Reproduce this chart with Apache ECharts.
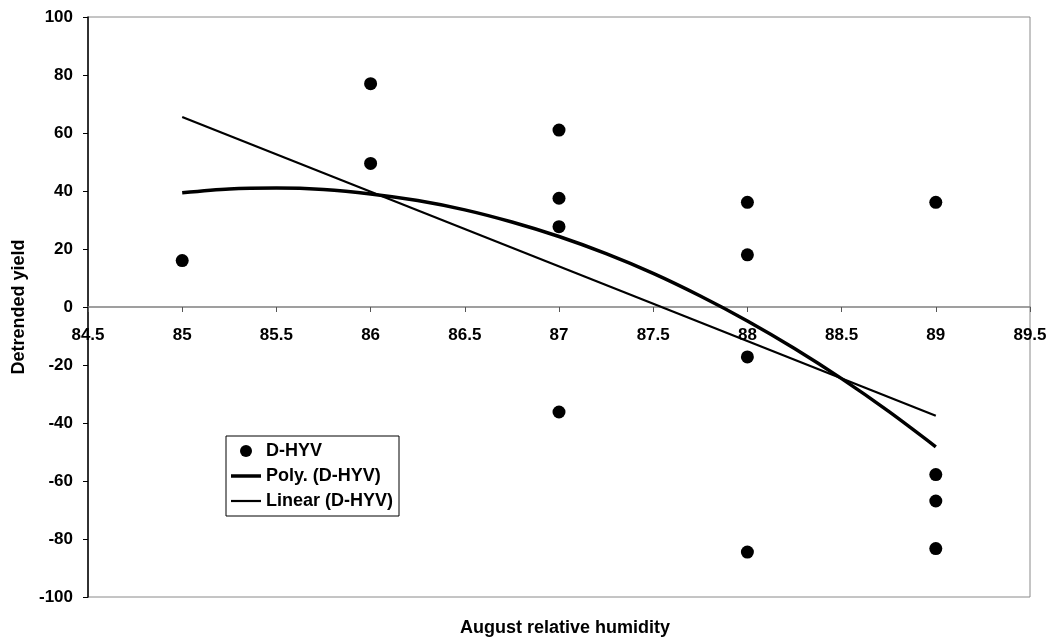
<!DOCTYPE html>
<html>
<head>
<meta charset="utf-8">
<script src="https://cdn.jsdelivr.net/npm/echarts@6/dist/echarts.min.js"></script>
<style>
  html, body { margin: 0; padding: 0; background: #fff; }
  #chart { width: 1050px; height: 639px; }
</style>
</head>
<body>
<div id="chart"></div>
<script>
// Observed detrended yield against August relative humidity
const humidity = [85, 86, 86, 87, 87, 87, 87, 88, 88, 88, 88, 89, 89, 89, 89];
const detrendedYield = [16, 77, 49.5, 61, 37.5, 27.7, -36.2, 36.1, 18, -17.2, -84.5, 36.1, -57.8, -66.9, -83.3];

// Second-order polynomial trend, sampled along its course
const polyX = [85, 85.25, 85.5, 85.75, 86, 86.25, 86.5, 86.75, 87, 87.25, 87.5, 87.75, 88, 88.25, 88.5, 88.75, 89];
const polyY = [39.4, 40.7, 41, 40.5, 39, 36.7, 33.5, 29.3, 24.3, 18.4, 11.6, 3.8, -4.8, -14.3, -24.7, -36, -48.2];

// Linear trend end points
const linearX = [85, 89];
const linearY = [65.5, -37.5];

// Axis ticks
const xTicks = { min: 84.5, max: 89.5, step: 0.5 };
const yTicks = { min: -100, max: 100, step: 20 };

const FONT = "'Liberation Sans', Arial, sans-serif";

const pairs = (xs, ys) => xs.map((x, i) => [x, ys[i]]);

const GRID = { left: 88, right: 20, top: 17, bottom: 42 };
const PLOT_H = 639 - GRID.top - GRID.bottom;

const chart = echarts.init(document.getElementById('chart'), null, { renderer: 'canvas' });

chart.setOption({
  backgroundColor: '#ffffff',
  animation: false,
  textStyle: { fontFamily: FONT },
  grid: {
    left: GRID.left, right: GRID.right, top: GRID.top, bottom: GRID.bottom,
    outerBoundsMode: 'none',
    containLabel: false,
    show: true, borderColor: '#8a8a8a', borderWidth: 1, backgroundColor: 'transparent'
  },
  xAxis: {
    type: 'value',
    min: xTicks.min, max: xTicks.max, interval: xTicks.step,
    position: 'bottom',
    // the humidity axis sits on the zero line, halfway up the plot
    offset: -PLOT_H * (0 - yTicks.min) / (yTicks.max - yTicks.min),
    axisLine: { onZero: false, lineStyle: { color: '#808080', width: 1.5 } },
    axisTick: { show: true, length: 5, lineStyle: { color: '#555', width: 1 } },
    axisLabel: { color: '#000', fontWeight: 'bold', fontSize: 17, fontFamily: FONT, margin: 20 },
    splitLine: { show: false }
  },
  yAxis: {
    type: 'value',
    min: yTicks.min, max: yTicks.max, interval: yTicks.step,
    name: 'Detrended yield',
    nameLocation: 'middle',
    nameGap: 60,
    nameTextStyle: { color: '#000', fontWeight: 'bold', fontSize: 18, fontFamily: FONT },
    axisLine: { lineStyle: { color: '#000', width: 1.5 } },
    axisTick: { show: true, length: 5, lineStyle: { color: '#000', width: 1 } },
    axisLabel: { color: '#000', fontWeight: 'bold', fontSize: 17, fontFamily: FONT, margin: 15 },
    splitLine: { show: false }
  },
  legend: {
    orient: 'vertical',
    left: 226, top: 436,
    padding: [6, 6, 6, 5],
    itemGap: 7,
    itemWidth: 30,
    itemHeight: 12,
    borderColor: '#000', borderWidth: 1,
    backgroundColor: '#fff',
    textStyle: { color: '#000', fontWeight: 'bold', fontSize: 18, fontFamily: FONT },
    data: [
      { name: 'D-HYV', icon: 'circle' },
      { name: 'Poly. (D-HYV)', icon: 'path://M0,0H30V3.5H0Z' },
      { name: 'Linear (D-HYV)', icon: 'path://M0,0H30V2.2H0Z' }
    ]
  },
  graphic: [{
    type: 'text',
    x: 565, y: 628,
    style: {
      text: 'August relative humidity',
      fill: '#000',
      font: 'bold 18px ' + FONT,
      textAlign: 'center',
      textVerticalAlign: 'middle'
    }
  }],
  series: [
    {
      name: 'D-HYV',
      type: 'scatter',
      data: pairs(humidity, detrendedYield),
      symbol: 'circle',
      symbolSize: 13,
      itemStyle: { color: '#000', opacity: 1 },
      z: 3
    },
    {
      name: 'Poly. (D-HYV)',
      type: 'line',
      data: pairs(polyX, polyY),
      smooth: 0.3,
      symbol: 'none',
      lineStyle: { color: '#000', width: 3.5 },
      itemStyle: { color: '#000' },
      z: 2
    },
    {
      name: 'Linear (D-HYV)',
      type: 'line',
      data: pairs(linearX, linearY),
      symbol: 'none',
      lineStyle: { color: '#000', width: 2.2 },
      itemStyle: { color: '#000' },
      z: 2
    }
  ]
});
</script>
</body>
</html>
